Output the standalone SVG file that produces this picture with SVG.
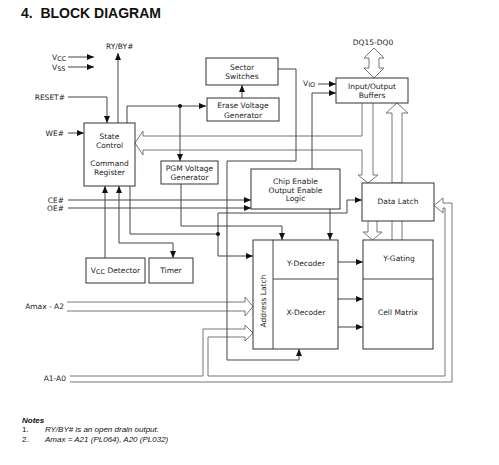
<svg xmlns="http://www.w3.org/2000/svg" width="499" height="465" viewBox="0 0 499 465">
<style>
.box{fill:#fff;stroke:#333;stroke-width:1}
.t{font-family:"DejaVu Sans",Verdana,sans-serif;font-size:7.5px;fill:#222;text-anchor:middle}
.l{font-family:"DejaVu Sans",Verdana,sans-serif;font-size:7.5px;fill:#222}
.c{fill:none;stroke:#444;stroke-width:1}
.bus{fill:none;stroke:#777;stroke-width:1}
.hb{fill:#fff;stroke:#777;stroke-width:1}
.n{font-family:"Liberation Sans",Arial,sans-serif;font-size:8px;fill:#111}
</style>
<defs>
<marker id="a" markerUnits="userSpaceOnUse" markerWidth="7" markerHeight="6" refX="7" refY="3" orient="auto">
<path d="M0,0 L7,3 L0,6 z" fill="#111"/>
</marker>
</defs>
<rect width="499" height="465" fill="#fff"/>
<text x="21" y="18" font-family="Liberation Sans,Arial,sans-serif" font-size="14" font-weight="bold" fill="#111">4.&#160; BLOCK DIAGRAM</text>

<g id="connectors">
<polygon class="hb" points="374,48 384,58 379,58 379,68 384,68 374,78 364,68 369,68 369,58 364,58"/>
<polygon class="hb" points="397,103 408,113 402,113 402,183 392,183 392,113 386,113"/>
<path class="bus" d="M392,221 V240 M402,221 V240"/>
<path class="bus" d="M362,103 V136 H143 V131 L135,143 L143,155 V150 H362 V175 H358 L368,183 L378,175 H373 V103"/>
<path class="bus" d="M368,221 V232 H363 L372.5,240 L382,232 H377 V221"/>
<path class="bus" d="M67,302 H245 V297 L253,306.5 L245,316 V311 H67"/>
<path class="bus" d="M70,382 H452 V203 H443 V198 L434,205.5 L443,213 V208 H445 V376 H208 V337 H245 V341 L253,333 L245,325 V329 H203 V376 H70"/>
<path class="c" d="M68,57 H94" marker-end="url(#a)"/>
<path class="c" d="M68,67 H94" marker-end="url(#a)"/>
<path class="c" d="M118,123 V53" marker-end="url(#a)"/>
<path class="c" d="M68,97 H107 V123" marker-end="url(#a)"/>
<path class="c" d="M68,133 H84" marker-end="url(#a)"/>
<path class="c" d="M127,123 V106 H206" marker-end="url(#a)"/>
<path class="c" d="M180,106 V161" marker-end="url(#a)"/>
<circle cx="180" cy="106" r="2" fill="#111"/>
<path class="c" d="M242,98 V85" marker-end="url(#a)"/>
<path class="c" d="M278,69 H296 V161 H227 V360 H299 V349" marker-end="url(#a)"/>
<path class="c" d="M318,84 H336" marker-end="url(#a)"/>
<path class="c" d="M312,169 V93 H336" marker-end="url(#a)"/>
<path class="c" d="M68,200 H251" marker-end="url(#a)"/>
<path class="c" d="M68,208 H251" marker-end="url(#a)"/>
<path class="c" d="M181,184 V226 H282 V240" marker-end="url(#a)"/>
<path class="c" d="M130,186 V234 H218 V213 H347 V200 H362" marker-end="url(#a)"/>
<path class="c" d="M218,234 V256 H253" marker-end="url(#a)"/>
<circle cx="218" cy="234" r="2" fill="#111"/>
<path class="c" d="M330,209 V240" marker-end="url(#a)"/>
<path class="c" d="M105,258 V186" marker-end="url(#a)"/>
<path class="c" d="M119,243 V186" marker-end="url(#a)"/>
<path class="c" d="M119,243 H173 V258" marker-end="url(#a)"/>
<path class="c" d="M338,262 H363" marker-end="url(#a)"/>
<path class="c" d="M338,299 H363" marker-end="url(#a)"/>
<path class="c" d="M338,327 H363" marker-end="url(#a)"/>
</g>

<g id="labels">
<text class="l" x="106" y="49">RY/BY#</text>
<text class="l" x="52" y="60">V<tspan font-size="6.5" dy="1">CC</tspan></text>
<text class="l" x="52" y="70">V<tspan font-size="6.5" dy="1">SS</tspan></text>
<text class="l" x="65" y="100" text-anchor="end">RESET#</text>
<text class="l" x="64" y="136" text-anchor="end">WE#</text>
<text class="l" x="64" y="203" text-anchor="end">CE#</text>
<text class="l" x="64" y="211" text-anchor="end">OE#</text>
<text class="l" x="64" y="309" text-anchor="end">Amax - A2</text>
<text class="l" x="66" y="381" text-anchor="end">A1-A0</text>
<text class="t" x="373" y="45">DQ15-DQ0</text>
<text class="l" x="303" y="86">V<tspan font-size="6.5" dy="1">IO</tspan></text>
</g>

<g id="sector-switches">
<rect class="box" x="206" y="58" width="72" height="27"/>
<text class="t" x="242" y="69.5">Sector</text>
<text class="t" x="242" y="79">Switches</text>
</g>
<g id="erase-voltage-generator">
<rect class="box" x="207" y="98" width="72" height="23"/>
<text class="t" x="243" y="108">Erase Voltage</text>
<text class="t" x="243" y="118">Generator</text>
</g>
<g id="io-buffers">
<rect class="box" x="336" y="78" width="72" height="25"/>
<text class="t" x="372" y="88.5">Input/Output</text>
<text class="t" x="372" y="97.5">Buffers</text>
</g>
<g id="state-control">
<rect class="box" x="84" y="123" width="51" height="63"/>
<text class="t" x="109.5" y="138.5">State</text>
<text class="t" x="109.5" y="147.5">Control</text>
<text class="t" x="109.5" y="165.5">Command</text>
<text class="t" x="109.5" y="174.5">Register</text>
</g>
<g id="pgm-voltage-generator">
<rect class="box" x="161" y="161" width="57" height="23"/>
<text class="t" x="189.5" y="170.5">PGM Voltage</text>
<text class="t" x="189.5" y="179.5">Generator</text>
</g>
<g id="chip-enable-logic">
<rect class="box" x="251" y="169" width="89" height="40"/>
<text class="t" x="295.5" y="183.5">Chip Enable</text>
<text class="t" x="295.5" y="192.5">Output Enable</text>
<text class="t" x="295.5" y="201">Logic</text>
</g>
<g id="data-latch">
<rect class="box" x="362" y="183" width="72" height="38"/>
<text class="t" x="398" y="204">Data Latch</text>
</g>
<g id="vcc-detector">
<rect class="box" x="86" y="258" width="59" height="25"/>
<text class="t" x="115.5" y="273">V<tspan font-size="6.5" dy="1">CC</tspan><tspan dy="-1"> Detector</tspan></text>
</g>
<g id="timer">
<rect class="box" x="149" y="258" width="44" height="25"/>
<text class="t" x="171" y="273">Timer</text>
</g>
<g id="address-latch-decoders">
<rect class="box" x="253" y="240" width="85" height="109"/>
<path class="c" d="M273,240 V349 M273,279 H338"/>
<text class="t" transform="translate(266,301) rotate(-90)">Address Latch</text>
<text class="t" x="306" y="265.5">Y-Decoder</text>
<text class="t" x="306" y="314.5">X-Decoder</text>
</g>
<g id="cell-matrix">
<rect class="box" x="363" y="240" width="70" height="109"/>
<path class="c" d="M363,279 H433"/>
<text class="t" x="399" y="260.5">Y-Gating</text>
<text class="t" x="398" y="314.5">Cell Matrix</text>
</g>

<g id="notes">
<text class="n" x="22" y="423" font-size="9" font-weight="bold" font-style="italic">Notes</text>
<text class="n" x="22" y="432">1.</text>
<text class="n" x="45" y="432" font-style="italic">RY/BY# is an open drain output.</text>
<text class="n" x="22" y="442">2.</text>
<text class="n" x="45" y="442" font-style="italic">Amax = A21 (PL064), A20 (PL032)</text>
</g>
</svg>
